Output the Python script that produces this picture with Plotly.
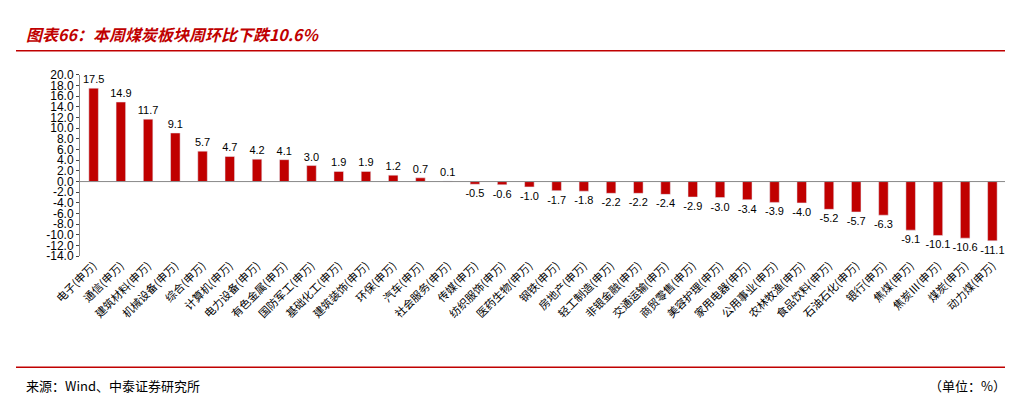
import plotly.graph_objects as go

categories = ["电子", "通信", "建筑材料", "机械设备", "综合", "计算机", "电力设备", "有色金属",
              "国防军工", "基础化工", "建筑装饰", "环保", "汽车", "社会服务", "传媒", "纺织服饰",
              "医药生物", "钢铁", "房地产", "轻工制造", "非银金融", "交通运输", "商贸零售", "美容护理",
              "家用电器", "公用事业", "农林牧渔", "食品饮料", "石油石化", "银行", "焦煤", "焦炭Ⅲ",
              "煤炭", "动力煤"]
labels = [c + "(申万)" for c in categories]
values = [17.5, 14.9, 11.7, 9.1, 5.7, 4.7, 4.2, 4.1, 3.0, 1.9, 1.9, 1.2, 0.7, 0.1,
          -0.5, -0.6, -1.0, -1.7, -1.8, -2.2, -2.2, -2.4, -2.9, -3.0, -3.4, -3.9, -4.0,
          -5.2, -5.7, -6.3, -9.1, -10.1, -10.6, -11.1]
tick_vals = list(range(-14, 21, 2))

font = "Noto Sans CJK SC"
red = "#C00000"
W, H = 1013, 401
L, R = 72, 15

def px(x):
    return (x - L) / (W - L - R)

def py(y):
    return 1 - y / H

fig = go.Figure()
fig.add_trace(go.Bar(
    x=labels, y=values, marker_color=red, width=0.35,
    text=[f"{v:.1f}" for v in values], textposition="outside", constraintext="none",
    textfont=dict(size=11, color="black", family="Arial"), cliponaxis=False,
))

fig.update_layout(
    width=W, height=H, margin=dict(l=L, r=R, t=0, b=0),
    plot_bgcolor="white", paper_bgcolor="white", showlegend=False,
    font=dict(family=font, size=11, color="black"),
    yaxis=dict(range=[-14, 20], tickvals=tick_vals, ticktext=[f"{v:.1f}" for v in tick_vals],
               showgrid=False, zeroline=False, showline=True, linecolor="#888",
               ticks="outside", ticklen=3, tickfont=dict(family="Arial", size=12),
               domain=[py(250), py(62)]),
    xaxis=dict(tickangle=-45, showline=False, showgrid=False, ticks="",
               tickfont=dict(family=font, size=11), anchor="free", position=py(250)),
    annotations=[
        dict(text="<b><i>图表66：本周煤炭板块周环比下跌10.6%</i></b>", x=px(16), y=py(20),
             xref="paper", yref="paper", xanchor="left", yanchor="middle", showarrow=False,
             font=dict(size=16, color=red, family=font)),
        dict(text="来源：Wind、中泰证券研究所", x=px(16), y=py(384), xref="paper", yref="paper",
             xanchor="left", yanchor="middle", showarrow=False,
             font=dict(size=13, color="black", family=font)),
        dict(text="（单位：%）", x=px(1000), y=py(384), xref="paper", yref="paper",
             xanchor="right", yanchor="middle", showarrow=False,
             font=dict(size=13, color="black", family=font)),
    ],
    shapes=[
        dict(type="line", xref="paper", yref="y", x0=0, x1=1, y0=0, y1=0,
             line=dict(color="#888", width=1)),
        dict(type="line", xref="paper", yref="paper", x0=px(8), x1=px(1005), y0=py(37), y1=py(37),
             line=dict(color=red, width=1.5)),
        dict(type="line", xref="paper", yref="paper", x0=px(8), x1=px(1005), y0=py(365), y1=py(365),
             line=dict(color=red, width=1.5)),
    ],
)
fig.write_html("out.html")
